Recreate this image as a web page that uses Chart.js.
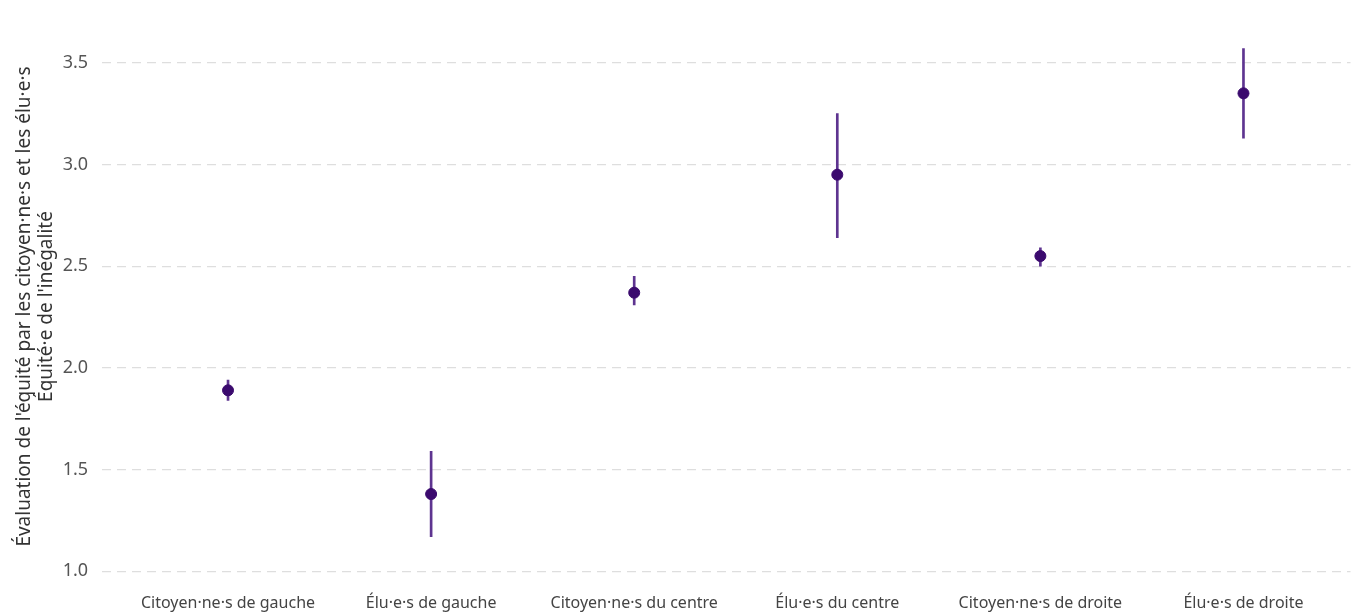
<!DOCTYPE html>
<html>
<head>
<meta charset="utf-8">
<script src="https://cdn.jsdelivr.net/npm/chart.js@4"></script>
<style>
  html, body { margin: 0; padding: 0; background: #fff; }
  #wrap { width: 1357px; height: 613px; }
</style>
</head>
<body>
<div id="wrap"><canvas id="chart"></canvas></div>
<script>
// categories and estimates (mean, lower, upper)
const categories = ['Citoyen·ne·s de gauche', 'Élu·e·s de gauche', 'Citoyen·ne·s du centre',
                    'Élu·e·s du centre', 'Citoyen·ne·s de droite', 'Élu·e·s de droite'];
const means = [1.89, 1.38, 2.37, 2.95, 2.55, 3.35];
const lower = [1.84, 1.17, 2.31, 2.64, 2.50, 3.13];
const upper = [1.94, 1.59, 2.45, 3.25, 2.59, 3.57];
const yTicks = [1.0, 1.5, 2.0, 2.5, 3.0, 3.5];

const pointData = means.map((v, i) => ({x: i, y: v}));
const errData = lower.map((lo, i) => ({x: i, y: [lo, upper[i]]}));

const font = "'Noto Sans', 'DejaVu Sans', sans-serif";

new Chart(document.getElementById('chart'), {
    data: {
        datasets: [
            {
                type: 'scatter',
                data: pointData,
                backgroundColor: '#3b0a6e',
                borderColor: '#3b0a6e',
                pointRadius: 5.5,
                order: 0
            },
            {
                type: 'bar',
                data: errData,
                backgroundColor: '#5e3490',
                barThickness: 2,
                order: 1
            }
        ]
    },
    options: {
        responsive: true,
        maintainAspectRatio: false,
        animation: false,
        layout: { padding: { left: 14, right: 5, top: 0, bottom: -7 } },
        plugins: {
            legend: { display: false },
            tooltip: { enabled: false }
        },
        scales: {
            x: {
                type: 'linear',
                offset: false,
                min: -0.62,
                max: 5.527,
                afterBuildTicks: axis => { axis.ticks = categories.map((c, i) => ({value: i})); },
                ticks: {
                    callback: v => categories[v],
                    color: '#444',
                    font: { family: font, size: 16 },
                    maxRotation: 0,
                    autoSkip: false,
                    padding: 6
                },
                grid: { display: false, drawTicks: false },
                border: { display: false }
            },
            y: {
                min: 0.917,
                max: 3.687,
                afterBuildTicks: axis => { axis.ticks = yTicks.map(v => ({value: v})); },
                ticks: {
                    callback: v => v.toFixed(1),
                    color: '#555',
                    font: { family: font, size: 18 },
                    padding: 14
                },
                grid: { color: '#dedede', lineWidth: 1.2, drawTicks: false },
                border: { display: false, dash: [9, 6] },
                title: {
                    display: true,
                    text: ['Évaluation de l\'équité par les citoyen·ne·s et les élu·e·s', 'Équité·e de l\'inégalité'],
                    color: '#333',
                    font: { family: font, size: 19, lineHeight: 1.15 },
                    padding: { top: 0, bottom: -9 }
                }
            }
        }
    }
});
</script>
</body>
</html>
